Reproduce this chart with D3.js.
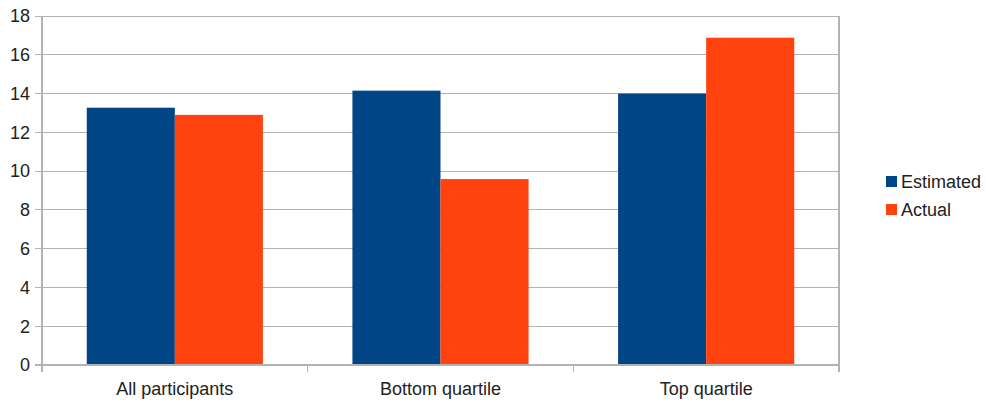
<!DOCTYPE html>
<html><head><meta charset="utf-8">
<script src="https://cdn.jsdelivr.net/npm/d3@7"></script>
<style>html,body{margin:0;padding:0;background:#fff;}svg{display:block;font-family:"Liberation Sans",Arial,sans-serif;}</style>
</head><body>
<svg id="c" width="986" height="403"></svg>
<script>
const categories = ["All participants", "Bottom quartile", "Top quartile"];
const seriesNames = ["Estimated", "Actual"];
const estimated = [13.27, 14.15, 14.0];
const actual = [12.9, 9.59, 16.88];
const yTicks = [0, 2, 4, 6, 8, 10, 12, 14, 16, 18];
const colors = ["#004586", "#ff420e"];

const svg = d3.select("#c");
const L = 42, R = 839, T = 16, B = 365;
const x = d3.scaleBand().domain(categories).range([L, R]).paddingInner(0).paddingOuter(0);
const y = d3.scaleLinear().domain([0, 18]).range([B, T]);
const grid = "#b3b3b3";
const fs = 18;

// gridlines
svg.append("g").selectAll("line").data(yTicks).join("line")
  .attr("x1", L - 7).attr("x2", R).attr("y1", d => y(d)).attr("y2", d => y(d))
  .attr("stroke", grid).attr("stroke-width", 1).attr("shape-rendering", "crispEdges");

// y axis labels
svg.append("g").selectAll("text").data(yTicks).join("text")
  .attr("x", 30).attr("y", d => y(d)).attr("dy", "0.35em").attr("text-anchor", "end")
  .attr("font-size", fs).attr("fill", "#222").text(d => d);

// bars
const x1 = d3.scaleBand().domain(seriesNames).range([0, x.bandwidth() * 0.663]);
const off = (x.bandwidth() - x.bandwidth() * 0.663) / 2;
const data = categories.map((c, i) => ({c, vals: [estimated[i], actual[i]]}));
const g = svg.append("g");
data.forEach(d => {
  d.vals.forEach((v, j) => {
    g.append("rect")
      .attr("x", x(d.c) + off + x1(seriesNames[j]))
      .attr("y", y(v)).attr("width", x1.bandwidth()).attr("height", y(0) - y(v))
      .attr("fill", colors[j]);
  });
});

// axes lines
svg.append("line").attr("x1", L).attr("x2", L).attr("y1", T).attr("y2", B + 7).attr("stroke", grid).attr("stroke-width", 2).attr("shape-rendering", "crispEdges");
svg.append("line").attr("x1", R).attr("x2", R).attr("y1", T).attr("y2", B + 7).attr("stroke", grid).attr("stroke-width", 2).attr("shape-rendering", "crispEdges");
svg.append("line").attr("x1", L - 7).attr("x2", R).attr("y1", B).attr("y2", B).attr("stroke", grid).attr("stroke-width", 2).attr("shape-rendering", "crispEdges");
svg.append("g").selectAll("line").data(categories.slice(1)).join("line")
  .attr("x1", d => x(d)).attr("x2", d => x(d)).attr("y1", B).attr("y2", B + 7)
  .attr("stroke", grid).attr("stroke-width", 1).attr("shape-rendering", "crispEdges");

// category labels
svg.append("g").selectAll("text").data(categories).join("text")
  .attr("x", d => x(d) + x.bandwidth() / 2).attr("y", 395).attr("text-anchor", "middle")
  .attr("font-size", fs).attr("fill", "#222").text(d => d);

// legend
const lg = svg.append("g");
seriesNames.forEach((s, i) => {
  const cy = 182 + i * 28;
  lg.append("rect").attr("x", 886).attr("y", cy - 6).attr("width", 11).attr("height", 11).attr("fill", colors[i]);
  lg.append("text").attr("x", 901).attr("y", cy).attr("dy", "0.35em").attr("font-size", fs).attr("fill", "#222").text(s);
});
</script>
</body></html>
